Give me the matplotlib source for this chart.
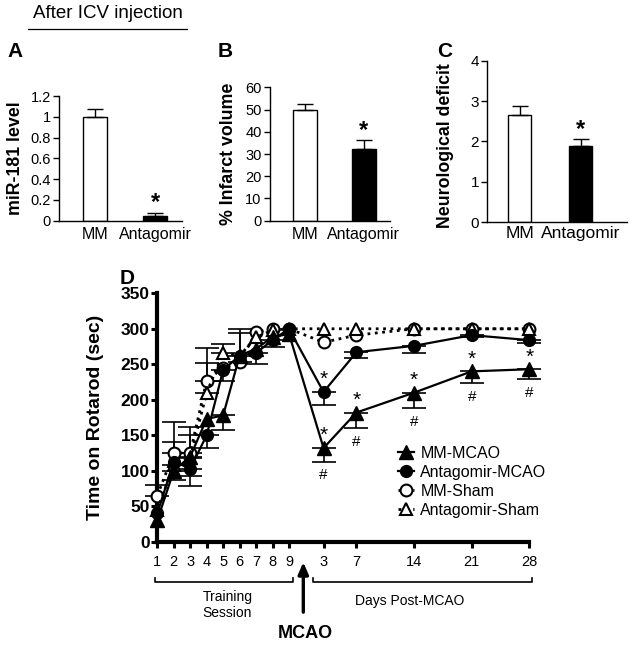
import numpy as np
import matplotlib.pyplot as plt
from matplotlib.patches import FancyArrowPatch

plt.rcParams['font.family'] = ['Liberation Sans', 'DejaVu Sans']

# panels A-C (bar charts)
groups = ["MM", "Antagomir"]
mir181 = [1.00, 0.045]
mir181_err = [0.075, 0.032]
infarct = [49.6, 32.4]
infarct_err = [2.8, 3.7]
neuro = [2.65, 1.90]
neuro_err = [0.23, 0.15]

# panel D (rotarod)
train_days = [1, 2, 3, 4, 5, 6, 7, 8, 9]
post_days = [3, 7, 14, 21, 28]
mm_mcao = [30, 100, 120, 173, 178, 262, 272, 288, 293, 132, 182, 210, 240, 243]
mm_mcao_lo = [0, 13, 28, 0, 20, 0, 0, 0, 0, 19, 22, 22, 17, 14]
ant_mcao = [40, 113, 103, 150, 242, 262, 266, 284, 300, 211, 267, 276, 291, 284]
ant_mcao_lo = [0, 0, 25, 18, 16, 0, 15, 10, 0, 18, 8, 10, 3, 4]
mm_sham = [65, 125, 125, 227, 245, 253, 295, 300, 300, 281, 291, 300, 300, 300]
mm_sham_hi = [15, 43, 36, 46, 0, 46, 0, 0, 0, 0, 0, 0, 0, 0]
ant_sham = [45, 108, 118, 210, 266, 262, 288, 298, 300, 300, 300, 300, 300, 300]
ant_sham_hi = [0, 33, 32, 42, 12, 32, 0, 0, 0, 0, 0, 0, 0, 0]
# significance marks, post-MCAO only
mm_star = [1, 1, 1, 1, 1]
mm_hash = [1, 1, 1, 1, 1]
ant_star = [1, 0, 0, 0, 0]

W, H = 635, 647
fig = plt.figure(figsize=(W / 100, H / 100), dpi=100)


def px_rect(l, t, r, b):
    return [l / W, 1 - b / H, (r - l) / W, (b - t) / H]


def bar_panel(ax, vals, errs, ylim, yticks, ytl, xlim, width, fs_tick, fs_cat, pad):
    x = np.arange(len(groups))
    ax.bar(x, vals, width=width, color=["white", "black"], edgecolor="black", linewidth=1)
    ax.errorbar(x, vals, yerr=[np.zeros(len(x)), errs], fmt="none", ecolor="black",
                elinewidth=1, capsize=6, capthick=1)
    ax.annotate("*", xy=(1, vals[1] + errs[1]), xytext=(0, -1), textcoords="offset points",
                ha="center", va="bottom", fontsize=17, fontweight="bold")
    ax.set_xlim(xlim)
    ax.set_ylim(ylim)
    ax.set_yticks(yticks)
    ax.set_yticklabels(ytl, fontsize=fs_tick)
    ax.set_xticks(x)
    ax.set_xticklabels(groups, fontsize=fs_cat)
    ax.tick_params(axis="x", length=0, pad=pad)
    ax.tick_params(axis="y", length=4, width=1, pad=2, direction="out")
    for s in ["top", "right"]:
        ax.spines[s].set_visible(False)
    for s in ["left", "bottom"]:
        ax.spines[s].set_linewidth(1)


axA = fig.add_axes(px_rect(59.3, 96, 182, 220.7))
bar_panel(axA, mir181, mir181_err, (0, 1.2), [0, 0.2, 0.4, 0.6, 0.8, 1.0, 1.2],
          ["0", "0.2", "0.4", "0.6", "0.8", "1", "1.2"], (-0.595, 1.45), 0.4, 10.5, 11.5, 4.5)
axB = fig.add_axes(px_rect(270, 87.3, 390, 220.7))
bar_panel(axB, infarct, infarct_err, (0, 60), [0, 10, 20, 30, 40, 50, 60],
          ["0", "10", "20", "30", "40", "50", "60"], (-0.588, 1.446), 0.407, 10.5, 11.5, 4.5)
axC = fig.add_axes(px_rect(487.3, 60.7, 626.7, 222.3))
bar_panel(axC, neuro, neuro_err, (0, 4), [0, 1, 2, 3, 4],
          ["0", "1", "2", "3", "4"], (-0.531, 1.754), 0.385, 11, 12.5, 3)

fig.text(16 / W, 1 - 158.3 / H, "miR-181 level", rotation=90, ha="center", va="center",
         fontsize=12.8, fontweight="bold")
fig.text(228.5 / W, 1 - 154 / H, "% Infarct volume", rotation=90, ha="center", va="center",
         fontsize=12.8, fontweight="bold")
fig.text(445 / W, 1 - 146 / H, "Neurological deficit", rotation=90, ha="center", va="center",
         fontsize=12.8, fontweight="bold")

# panel letters and header
for lab, (x, y) in zip("ABCD", [(15, 57), (225.5, 57), (445, 57), (127.5, 284)]):
    fig.text(x / W, 1 - y / H, lab, ha="center", va="baseline", fontsize=15, fontweight="bold")
fig.text(107.5 / W, 1 - 18.5 / H, "After ICV injection", ha="center", va="baseline", fontsize=13.5)
fig.add_artist(plt.Line2D([28 / W, 187 / W], [1 - 29 / H, 1 - 29 / H], color="black", lw=0.9))

# panel D
axD = fig.add_axes(px_rect(157.3, 293.3, 529.3, 541.7))
xpos = np.array(train_days + [9.6 + 0.5 * d for d in post_days])
zeros = np.zeros(len(xpos))


def err_series(ax, y, lo, hi):
    y = np.array(y, float)
    lo = np.array(lo, float)
    hi = np.array(hi, float)
    m = (lo > 0) | (hi > 0)
    ax.errorbar(xpos[m], y[m], yerr=[lo[m], hi[m]], fmt="none", ecolor="black",
                elinewidth=1.2, capsize=8.5, capthick=1.2, zorder=2, clip_on=False)


err_series(axD, mm_sham, zeros, mm_sham_hi)
err_series(axD, ant_sham, zeros, ant_sham_hi)
err_series(axD, mm_mcao, mm_mcao_lo, zeros)
err_series(axD, ant_mcao, ant_mcao_lo, zeros)

h_ms, = axD.plot(xpos, mm_sham, ls=":", lw=2, color="black", marker="o", ms=8.5,
                 mfc="white", mec="black", mew=1.5, zorder=3, clip_on=False)
h_as, = axD.plot(xpos, ant_sham, ls=":", lw=2, color="black", marker="^", ms=9,
                 mfc="white", mec="black", mew=1.5, zorder=3, clip_on=False)
h_mm, = axD.plot(xpos, mm_mcao, ls="-", lw=1.6, color="black", marker="^", ms=9.5,
                 mfc="black", mec="black", zorder=4, clip_on=False)
h_am, = axD.plot(xpos, ant_mcao, ls="-", lw=1.6, color="black", marker="o", ms=8.5,
                 mfc="black", mec="black", zorder=4, clip_on=False)

post_x = xpos[len(train_days):]
post_mm = np.array(mm_mcao[len(train_days):])
post_mm_lo = np.array(mm_mcao_lo[len(train_days):])
post_am = np.array(ant_mcao[len(train_days):])
for i, xp in enumerate(post_x):
    if mm_star[i]:
        axD.annotate("*", xy=(xp, post_mm[i]), xytext=(0, 2), textcoords="offset points",
                     ha="center", va="bottom", fontsize=15)
    if mm_hash[i]:
        axD.annotate("#", xy=(xp, post_mm[i] - post_mm_lo[i]), xytext=(0, -5),
                     textcoords="offset points", ha="center", va="top", fontsize=11)
    if ant_star[i]:
        axD.annotate("*", xy=(xp, post_am[i]), xytext=(0, 2), textcoords="offset points",
                     ha="center", va="bottom", fontsize=15)

axD.set_xlim(1, 23.6)
axD.set_ylim(0, 350)
axD.set_yticks(np.arange(0, 351, 50))
axD.set_yticklabels([str(v) for v in range(0, 351, 50)], fontsize=12.5, fontweight="bold")
axD.set_xticks(xpos)
axD.set_xticklabels([str(d) for d in train_days] + [str(d) for d in post_days], fontsize=10.5)
axD.tick_params(axis="y", length=4.5, width=2.2, pad=1)
axD.tick_params(axis="x", length=4.5, width=2.2, pad=5)
for s in ["top", "right"]:
    axD.spines[s].set_visible(False)
for s in ["left", "bottom"]:
    axD.spines[s].set_linewidth(3)

fig.text(96 / W, 1 - 417 / H, "Time on Rotarod (sec)", rotation=90, ha="center", va="center",
         fontsize=14, fontweight="bold")

axD.legend([h_mm, h_am, h_ms, h_as], ["MM-MCAO", "Antagomir-MCAO", "MM-Sham", "Antagomir-Sham"],
           loc="upper left", bbox_to_anchor=(398 / W, 1 - 446 / H), bbox_transform=fig.transFigure,
           frameon=False, fontsize=11.5, handlelength=1.0, handletextpad=0.4,
           labelspacing=0.25, borderpad=0, borderaxespad=0)

# brackets, arrow and phase labels under the x axis
tr = axD.get_xaxis_transform()
yb, yt = -0.1634, -0.146
axD.plot([0.88, 0.88, 9.25, 9.25], [yt, yb, yb, yt], transform=tr, color="black",
         lw=1.2, clip_on=False)
axD.plot([10.45, 10.45, 23.75, 23.75], [yt, yb, yb, yt], transform=tr, color="black",
         lw=1.2, clip_on=False)
axD.text(5.25, -0.2536, "Training\nSession", transform=tr, ha="center", va="center",
         fontsize=10, linespacing=1.15)
axD.text(16.35, -0.2375, "Days Post-MCAO", transform=tr, ha="center", va="center", fontsize=10)
arrow = FancyArrowPatch((9.87, -0.295), (9.87, -0.0709), transform=tr,
                        arrowstyle="-|>,head_length=0.7,head_width=0.3", mutation_scale=10,
                        color="black", lw=2.4, clip_on=False)
axD.add_patch(arrow)
axD.text(9.98, -0.369, "MCAO", transform=tr, ha="center", va="center",
         fontsize=13, fontweight="bold")

fig.savefig("out.png", dpi=100)
